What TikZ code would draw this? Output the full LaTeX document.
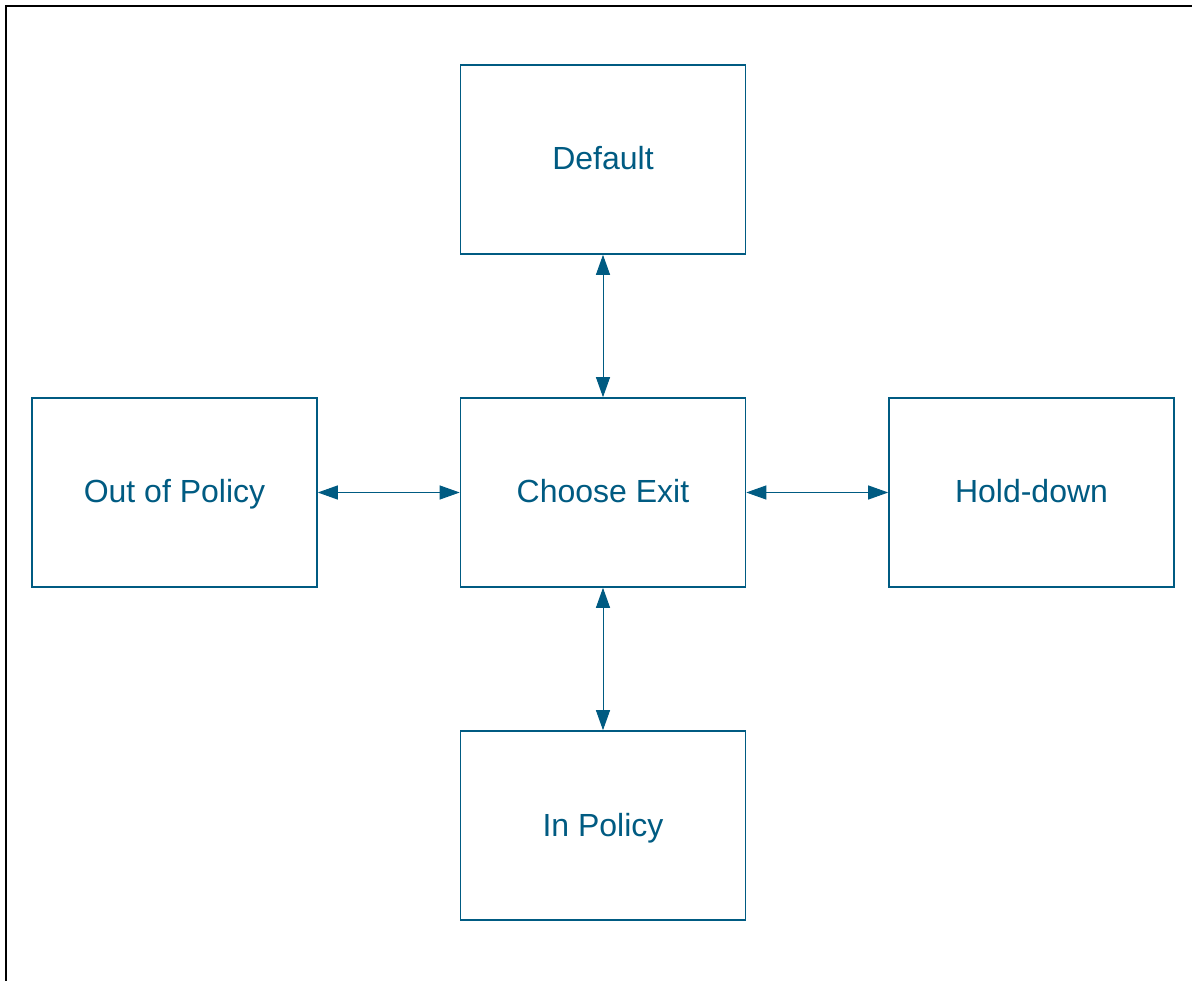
\documentclass[tikz,border=0pt]{standalone}
\usepackage{fontspec}
\setmainfont{Liberation Sans}
\usetikzlibrary{arrows.meta}
\definecolor{stroke}{RGB}{0,91,130}
\tikzset{
  box/.style={draw=stroke, line width=1.6pt, minimum width=285pt, minimum height=189pt, inner sep=0pt,
    text height=23pt, text depth=2pt,
    text=stroke, font=\fontsize{32}{38}\selectfont},
  link/.style={draw=stroke, line width=1pt, {Triangle[length=20pt,width=14pt]}-{Triangle[length=20pt,width=14pt]}}
}
\begin{document}
\begin{tikzpicture}[x=1pt,y=-1pt]
\useasboundingbox (0,0) rectangle (1192,981);
\fill[white] (0,0) rectangle (1192,981);
\draw[black, line width=2pt] (6,990) -- (6,6) -- (1200,6);
\node[box] (def) at (603,159.5) {Default};
\node[box] (choose) at (603,492.5) {Choose Exit};
\node[box] (out) at (174.5,492.5) {Out of Policy};
\node[box] (hold) at (1031.5,492.5) {Hold-down};
\node[box] (in) at (603,825.5) {In Policy};
\draw[link] (def) -- (choose);
\draw[link] (out) -- (choose);
\draw[link] (choose) -- (hold);
\draw[link] (choose) -- (in);
\end{tikzpicture}
\end{document}
